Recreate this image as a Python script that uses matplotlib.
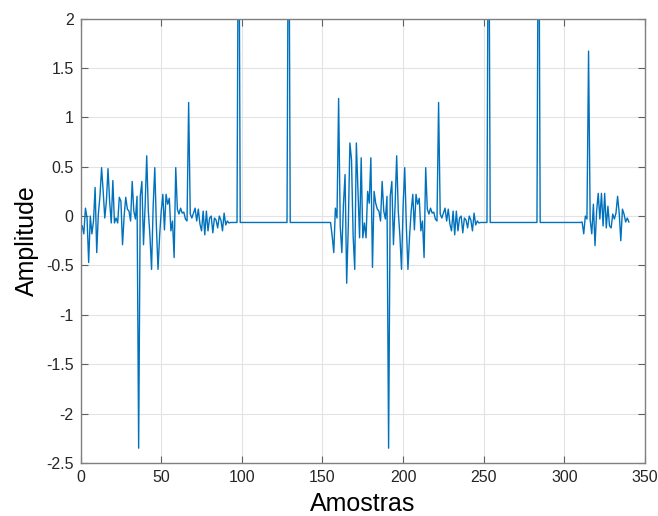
import matplotlib
matplotlib.use('Agg')
import matplotlib.pyplot as plt
import numpy as np

plt.rcParams['font.family'] = ['Liberation Sans', 'DejaVu Sans']
plt.rcParams['axes.unicode_minus'] = False

# ---- data ----
n_samples = 340
flat_level = -0.065

# samples 1..92
seg_a = [-0.10, -0.18, 0.08, -0.02, -0.47, 0.00, -0.18, -0.05, 0.29, -0.37,
         0.02, 0.20, 0.49, 0.25, -0.02, 0.15, 0.48, 0.15, -0.07, 0.36,
         -0.07, -0.02, -0.07, 0.19, 0.15, -0.29, 0.00, 0.19, 0.07, 0.05,
         -0.05, 0.35, 0.05, -0.03, 0.20, -2.35, 0.20, 0.35, -0.29, 0.10,
         0.61, 0.05, -0.20, -0.54, 0.10, 0.49, -0.10, -0.54, -0.20, 0.05,
         0.22, -0.14, 0.22, 0.12, 0.18, -0.15, -0.05, -0.42, 0.49, 0.07,
         0.02, 0.08, 0.03, 0.04, -0.03, -0.05, 1.15, 0.02, -0.02, 0.03,
         0.08, -0.05, 0.07, -0.08, -0.15, 0.05, -0.19, 0.05, -0.15, -0.02,
         0.00, -0.17, -0.02, -0.04, -0.12, 0.00, -0.04, -0.15, 0.03, -0.09,
         -0.05, -0.07]
seg_a_start = 1

# samples 156..247
seg_b = [-0.20, -0.37, 0.08, -0.02, 1.19, -0.10, -0.37, 0.12, 0.42, -0.68,
         -0.10, 0.74, 0.57, -0.20, -0.54, 0.74, 0.25, -0.22, 0.59, -0.22,
         -0.07, -0.22, 0.25, 0.13, 0.59, -0.52, 0.25, 0.13,
         0.07, 0.05, -0.05, 0.35, 0.05, -0.03, 0.20, -2.35, 0.20, 0.35, -0.29, 0.10,
         0.61, 0.05, -0.20, -0.54, 0.10, 0.49, -0.10, -0.54, -0.20, 0.05,
         0.22, -0.14, 0.22, 0.12, 0.18, -0.15, -0.05, -0.42, 0.49, 0.07,
         0.02, 0.08, 0.03, 0.04, -0.03, -0.05, 1.15, 0.02, -0.02, 0.03,
         0.08, -0.05, 0.07, -0.08, -0.15, 0.05, -0.19, 0.05, -0.15, -0.02,
         0.00, -0.17, -0.02, -0.04, -0.12, 0.00, -0.04, -0.15, 0.03, -0.09,
         -0.05, -0.07]
seg_b_start = 156

# samples 311..340
seg_c = [-0.06, -0.18, 0.00, -0.03, 1.67, -0.04, -0.18, 0.12, -0.30, 0.05,
         0.23, -0.03, 0.23, -0.10, 0.23, -0.12, 0.10, -0.10, -0.12, 0.02,
         -0.03, 0.03, 0.20, 0.03, -0.25, 0.07, 0.02, -0.06, -0.02, -0.06]
seg_c_start = 311

spike_samples = [98, 129, 253, 284]
spike_values = [4.0, 4.0, 4.0, 4.0]

x_ticks = [0, 50, 100, 150, 200, 250, 300, 350]
y_ticks = [-2.5, -2, -1.5, -1, -0.5, 0, 0.5, 1, 1.5, 2]
y_tick_labels = ['-2.5', '-2', '-1.5', '-1', '-0.5', '0', '0.5', '1', '1.5', '2']

# ---- build series ----
x = np.arange(1, n_samples + 1)
y = np.full(n_samples, flat_level)
for start, seg in ((seg_a_start, seg_a), (seg_b_start, seg_b), (seg_c_start, seg_c)):
    y[start - 1:start - 1 + len(seg)] = seg
for s, v in zip(spike_samples, spike_values):
    y[s - 1] = v

W, H = 658, 516
fig = plt.figure(figsize=(W / 100, H / 100), dpi=100)
left, right, top, bottom = 80.6, 645, 18.5, 463
ax = fig.add_axes([left / W, 1 - bottom / H, (right - left) / W, (bottom - top) / H])

ax.plot(x, y, color='#0072BD', lw=1.0)
ax.set_xlim(0, 350)
ax.set_ylim(-2.5, 2)
ax.set_xticks(x_ticks)
ax.set_xticklabels([str(t) for t in x_ticks])
ax.set_yticks(y_ticks)
ax.set_yticklabels(y_tick_labels)
ax.grid(True, color='#e3e3e3', lw=0.8)
ax.set_axisbelow(True)
for sp in ax.spines.values():
    sp.set_color('#808080')
    sp.set_linewidth(1.0)
ax.tick_params(direction='in', top=True, right=True, length=5, width=0.8,
               color='#606060', labelsize=11.5, labelcolor='#262626', pad=5)
ax.set_xlabel('Amostras', fontsize=18, color='black', labelpad=5)
ax.set_ylabel('Amplitude', fontsize=18, color='black', labelpad=5)

fig.savefig('out.png', dpi=100)
